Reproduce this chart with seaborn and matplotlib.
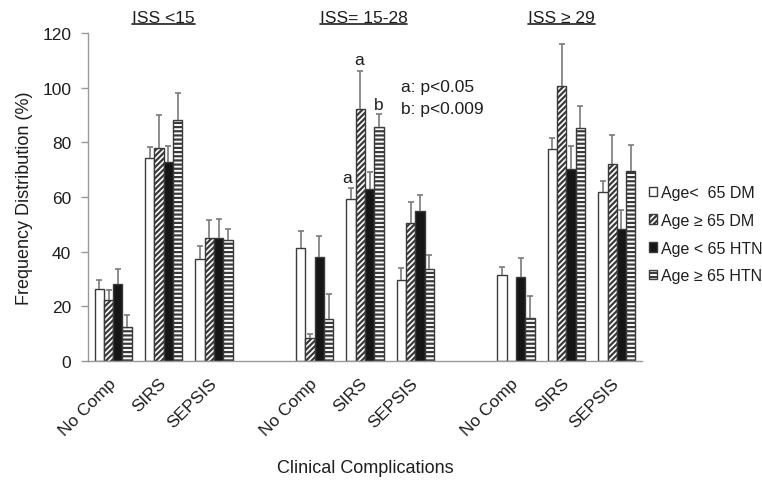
import numpy as np
import pandas as pd
import matplotlib
matplotlib.use("Agg")
import matplotlib.pyplot as plt
import seaborn as sns
from matplotlib.patches import Patch
from matplotlib.lines import Line2D
from matplotlib.transforms import blended_transform_factory

# ---- data ----
groups = ["ISS <15", "ISS= 15-28", "ISS \u2265 29"]
complications = ["No Comp", "SIRS", "SEPSIS"]
series = ["Age<  65 DM", "Age \u2265 65 DM", "Age < 65 HTN", "Age \u2265 65 HTN"]

# 9 values each: (ISS<15: NoComp, SIRS, SEPSIS), (ISS 15-28: ...), (ISS>=29: ...)
dm_young = [26.5, 74.4, 37.2, 41.3, 59.2, 29.7, 31.3, 77.4, 61.9]
dm_young_err = [3.2, 3.8, 5.0, 6.2, 4.0, 4.2, 3.1, 4.1, 4.1]
dm_old = [22.5, 78.0, 44.9, 8.5, 92.2, 50.5, 0.0, 100.6, 72.1]
dm_old_err = [3.4, 12.0, 6.6, 1.3, 13.8, 7.5, 0.0, 15.3, 10.7]
htn_young = [28.2, 72.8, 44.9, 37.9, 62.9, 54.8, 30.7, 70.2, 48.3]
htn_young_err = [5.3, 6.0, 6.9, 7.9, 6.1, 5.9, 7.1, 8.3, 7.0]
htn_old = [12.6, 88.2, 44.4, 15.5, 85.5, 33.7, 15.6, 85.4, 69.6]
htn_old_err = [4.2, 10.0, 3.8, 8.9, 4.9, 5.0, 8.1, 7.9, 9.4]

values = [dm_young, dm_old, htn_young, htn_old]
errors = [dm_young_err, dm_old_err, htn_young_err, htn_old_err]

fills = ["white", "white", "#161616", "white"]
hatches = ["", "//////", "", "----"]

# ---- build long table ----
rows = []
for name, vals, errs in zip(series, values, errors):
    for k in range(9):
        g, c = divmod(k, 3)
        rows.append({"slot": f"{g}-{c}", "series": name, "value": vals[k], "err": errs[k]})
df = pd.DataFrame(rows)

# empty slot between each ISS group
slot_order = []
for g in range(3):
    slot_order += [f"{g}-{c}" for c in range(3)]
    if g < 2:
        slot_order.append(f"gap{g}")

sns.set_theme(style="white")
plt.rcParams["font.family"] = ["Liberation Sans", "DejaVu Sans"]
plt.rcParams["hatch.linewidth"] = 1.6
text_color = "#1e1e1e"

fig = plt.figure(figsize=(7.62, 4.89), dpi=100)
ax = fig.add_axes([88 / 762, 1 - 362 / 489, 554 / 762, 328 / 489])

sns.barplot(data=df, x="slot", y="value", hue="series", order=slot_order,
            hue_order=series, palette=dict(zip(series, fills)), saturation=1,
            width=0.74, errorbar=None, edgecolor="#3a3a3a", linewidth=1,
            legend=False, ax=ax)

for container, h in zip(ax.containers, hatches):
    for p in container:
        p.set_hatch(h)

# upper error bars only
err_lookup = df.set_index(["slot", "series"])["err"]
for container, name in zip(ax.containers, series):
    xs, ys, es = [], [], []
    for p in container:
        xc = p.get_x() + p.get_width() / 2
        key = slot_order[int(round(xc))]
        e = err_lookup[(key, name)]
        if e > 0:
            xs.append(xc)
            ys.append(p.get_height())
            es.append(e)
    eb = ax.errorbar(xs, ys, yerr=[np.zeros(len(es)), es], fmt="none",
                     ecolor="#7a7a7a", elinewidth=1.2, capsize=2.2, capthick=1.2, zorder=3)
    eb[1][0].set_visible(False)
    eb[1][1].set_color("#333333")

# axes styling
ax.set_xlim(-0.5, len(slot_order) - 0.5)
ax.set_ylim(0, 120)
ax.set_yticks(range(0, 121, 20))
tick_pos = [i for i, s in enumerate(slot_order) if not s.startswith("gap")]
ax.set_xticks(tick_pos)
ax.set_xticklabels(complications * 3)
for lbl in ax.get_xticklabels():
    lbl.set_rotation(45)
    lbl.set_ha("right")
    lbl.set_va("center")
    lbl.set_rotation_mode("anchor")
ax.tick_params(axis="x", length=0, pad=14, labelsize=12.5, labelcolor=text_color)
ax.tick_params(axis="y", left=True, length=5, width=1, color="#999999", pad=7,
               labelsize=12.5, labelcolor=text_color)
sns.despine(ax=ax)
for side in ["left", "bottom"]:
    ax.spines[side].set_color("#999999")
    ax.spines[side].set_linewidth(1)

ax.set_ylabel("Frequency Distribution (%)", fontsize=13, color=text_color)
ax.yaxis.set_label_coords(-0.1, 0.5)
ax.set_xlabel("Clinical Complications", fontsize=13, color=text_color)
ax.xaxis.set_label_coords(0.5, -0.3)
ax.xaxis.label.set_va("top")

# significance marks
ax.text(4.64, 64.5, "a", ha="center", va="bottom", fontsize=12.5, color=text_color)
ax.text(4.88, 107.5, "a", ha="center", va="bottom", fontsize=12.5, color=text_color)
ax.text(5.28, 91.0, "b", ha="center", va="bottom", fontsize=12.5, color=text_color)
ax.text(5.72, 100.3, "a: p<0.05", ha="left", va="center", fontsize=12.5, color=text_color)
ax.text(5.72, 92.2, "b: p<0.009", ha="left", va="center", fontsize=12.5, color=text_color)

# underlined group titles
trans = blended_transform_factory(ax.transData, ax.transAxes)
title_x = [1.0, 4.97, 8.9]
titles = []
for gx, gname in zip(title_x, groups):
    titles.append(ax.text(gx, 1.0335, gname, transform=trans, ha="center",
                          va="baseline", fontsize=12.5, color=text_color))
fig.canvas.draw()
inv = ax.transAxes.inverted()
for t in titles:
    bb = t.get_window_extent().transformed(inv)
    ax.add_line(Line2D([bb.x0, bb.x1], [1.026, 1.026], transform=ax.transAxes,
                       color=text_color, lw=1.2, clip_on=False))

# legend
handles = [Patch(facecolor=f, edgecolor="#3a3a3a", hatch=h) for f, h in zip(fills, hatches)]
fig.legend(handles, series, loc="upper left", bbox_to_anchor=(649 / 762, 1 - 186 / 489),
           frameon=False, fontsize=11.5, handlelength=0.5, handleheight=0.55,
           handletextpad=0.25, labelspacing=0.8, borderpad=0, borderaxespad=0,
           labelcolor=text_color)

fig.savefig("out.png", dpi=100)
